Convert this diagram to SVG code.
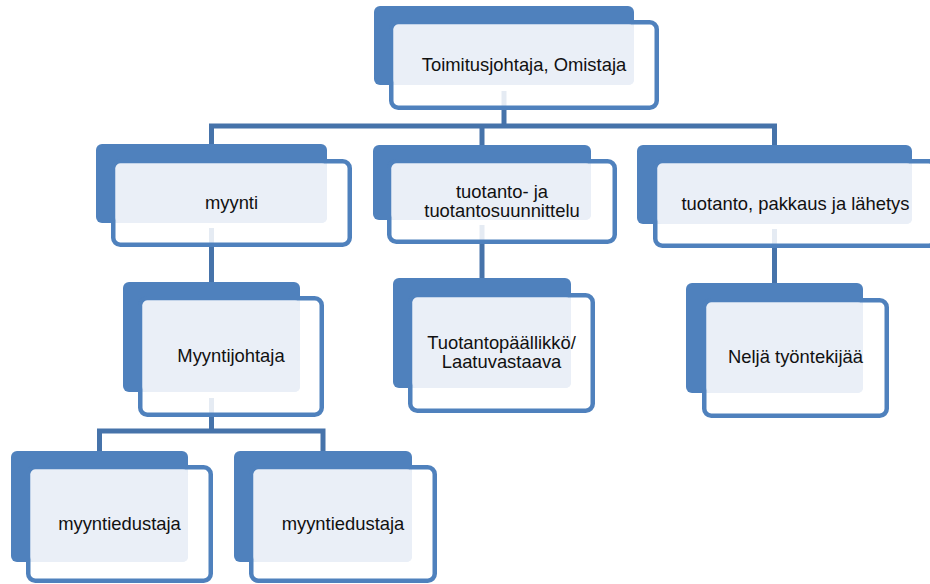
<svg xmlns="http://www.w3.org/2000/svg" width="930" height="584" viewBox="0 0 930 584">
  <style>
    .back { fill: #4F81BD; }
    .frame { fill: #FFFFFF; fill-opacity: 0.86; stroke: #4F81BD; stroke-width: 4.5; }
    .pane { fill: #EAEFF7; }
    .label { font-family: "Liberation Sans", Arial, sans-serif; font-size: 18.4px; fill: #111111; text-anchor: middle; }
    .link { fill: none; stroke: #4673AA; stroke-width: 5; stroke-linejoin: miter; stroke-linecap: butt; }
  </style>
  <rect width="930" height="584" fill="#FFFFFF"/>

  <!-- tree lines, drawn beneath the boxes -->
  <g id="connectors">
    <path class="link" d="M504,91 V126"/>
    <path class="link" d="M211.5,146 V126 H774.5 V147 M482,126 V147"/>
    <path class="link" d="M211.5,228 V284"/>
    <path class="link" d="M482,225 V280"/>
    <path class="link" d="M774.5,229 V285"/>
    <path class="link" d="M211.5,398 V431"/>
    <path class="link" d="M99.5,453 V431 H323 V453"/>
  </g>

  <g id="node-toimitusjohtaja">
    <rect class="back" x="374" y="6" width="260" height="79" rx="6"/>
    <rect class="frame" x="391.25" y="22.25" width="265.5" height="85.5" rx="7"/>
    <rect class="pane" x="393.5" y="24.5" width="240.5" height="60.5" rx="5"/>
    <text class="label" x="524" y="71">Toimitusjohtaja, Omistaja</text>
  </g>

  <g id="node-myynti">
    <rect class="back" x="96" y="144" width="231" height="79" rx="6"/>
    <rect class="frame" x="113.25" y="161.25" width="236.5" height="83.5" rx="7"/>
    <rect class="pane" x="115.5" y="163.5" width="211.5" height="59.5" rx="5"/>
    <text class="label" x="231.5" y="209">myynti</text>
  </g>

  <g id="node-tuotantosuunnittelu">
    <rect class="back" x="373" y="145" width="218" height="75" rx="6"/>
    <rect class="frame" x="389.25" y="161.25" width="225.5" height="80.5" rx="7"/>
    <rect class="pane" x="391.5" y="163.5" width="199.5" height="56.5" rx="5"/>
    <text class="label" x="502" y="198">tuotanto- ja</text>
    <text class="label" x="502" y="217">tuotantosuunnittelu</text>
  </g>

  <g id="node-tuotanto-pakkaus">
    <rect class="back" x="637" y="145" width="275" height="79" rx="6"/>
    <rect class="frame" x="655.25" y="161.25" width="280.5" height="84.5" rx="7"/>
    <rect class="pane" x="657.5" y="163.5" width="254.5" height="60.5" rx="5"/>
    <text class="label" x="795.5" y="210">tuotanto, pakkaus ja lähetys</text>
  </g>

  <g id="node-myyntijohtaja">
    <rect class="back" x="123" y="282" width="177" height="110" rx="6"/>
    <rect class="frame" x="140.25" y="298.25" width="181.5" height="116.5" rx="7"/>
    <rect class="pane" x="142.5" y="300.5" width="157.5" height="91.5" rx="5"/>
    <text class="label" x="231" y="362">Myyntijohtaja</text>
  </g>

  <g id="node-tuotantopaallikko">
    <rect class="back" x="393" y="278" width="178" height="110" rx="6"/>
    <rect class="frame" x="410.25" y="295.25" width="182.5" height="115.5" rx="7"/>
    <rect class="pane" x="412.5" y="297.5" width="158.5" height="90.5" rx="5"/>
    <text class="label" x="501.5" y="349">Tuotantopäällikkö/</text>
    <text class="label" x="501.5" y="368">Laatuvastaava</text>
  </g>

  <g id="node-tyontekijat">
    <rect class="back" x="686" y="283" width="177" height="110" rx="6"/>
    <rect class="frame" x="704.25" y="300.25" width="182.5" height="115.5" rx="7"/>
    <rect class="pane" x="706.5" y="302.5" width="156.5" height="90.5" rx="5"/>
    <text class="label" x="795.5" y="363">Neljä työntekijää</text>
  </g>

  <g id="node-myyntiedustaja-1">
    <rect class="back" x="11" y="451" width="177" height="111" rx="6"/>
    <rect class="frame" x="28.25" y="467.25" width="182.5" height="113.5" rx="7"/>
    <rect class="pane" x="30.5" y="469.5" width="157.5" height="92.5" rx="5"/>
    <text class="label" x="119.5" y="530">myyntiedustaja</text>
  </g>

  <g id="node-myyntiedustaja-2">
    <rect class="back" x="234" y="451" width="178" height="111" rx="6"/>
    <rect class="frame" x="251.25" y="467.25" width="183.5" height="113.5" rx="7"/>
    <rect class="pane" x="253.5" y="469.5" width="158.5" height="92.5" rx="5"/>
    <text class="label" x="343" y="530">myyntiedustaja</text>
  </g>
</svg>
